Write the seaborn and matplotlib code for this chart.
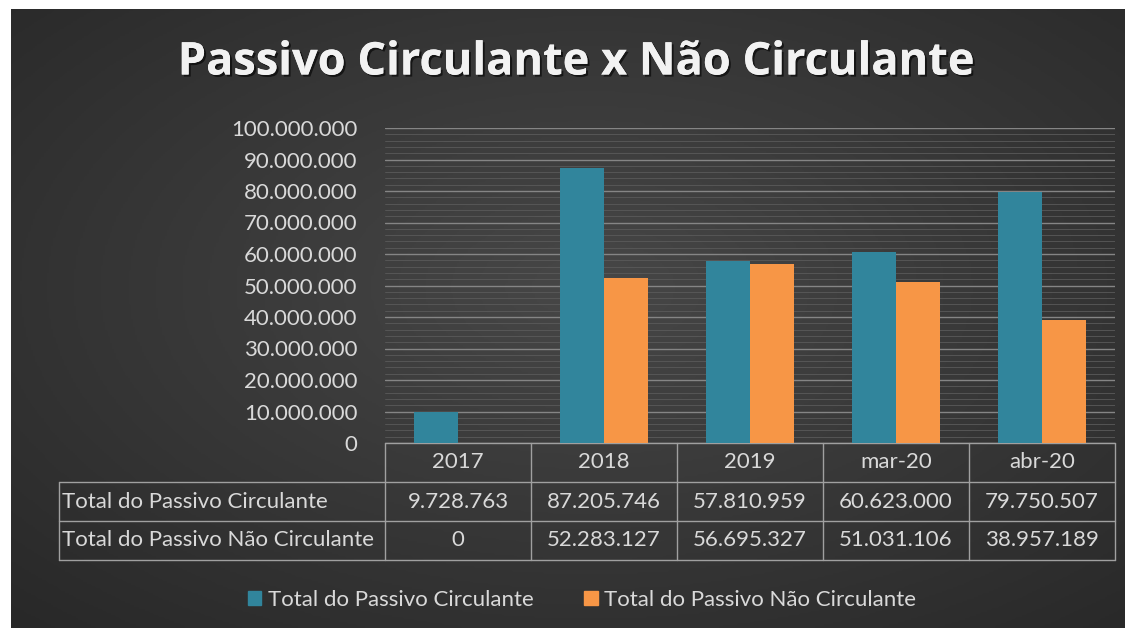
import numpy as np
import pandas as pd
import seaborn as sns
import matplotlib.pyplot as plt
from matplotlib import patheffects
from matplotlib.colors import LinearSegmentedColormap
from matplotlib.ticker import FuncFormatter, MultipleLocator

# data
categories = ['2017', '2018', '2019', 'mar-20', 'abr-20']
circulante = [9728763, 87205746, 57810959, 60623000, 79750507]
nao_circulante = [0, 52283127, 56695327, 51031106, 38957189]
series_names = ['Total do Passivo Circulante', 'Total do Passivo Não Circulante']
colors = ['#31859C', '#F79646']
title = 'Passivo Circulante x Não Circulante'


def fmt_br(v, pos=None):
    return f'{v:,.0f}'.replace(',', '.')


df = pd.DataFrame({
    'cat': categories * 2,
    'serie': [series_names[0]] * 5 + [series_names[1]] * 5,
    'valor': circulante + nao_circulante,
})

sns.set_theme(style='dark')
plt.rcParams['font.family'] = ['Lato', 'DejaVu Sans']
txt = '#d9d9d9'
line_c = '#a0a0a0'

W, H = 1133, 635
fig = plt.figure(figsize=(W / 100, H / 100), dpi=100)
fig.patch.set_facecolor('white')


def frame(x0, y0, x1, y1):
    # pixel box -> figure fraction [left, bottom, width, height]
    return [x0 / W, 1 - y1 / H, (x1 - x0) / W, (y1 - y0) / H]


# dark radial background
bg = fig.add_axes(frame(11, 9, 1125, 628))
yy, xx = np.mgrid[0:1:300j, 0:1:500j]
r = np.sqrt(((xx - 0.52) / 0.8) ** 2 + ((yy - 0.45) / 0.8) ** 2)
cmap = LinearSegmentedColormap.from_list('bg', ['#474747', '#282828'])
bg.imshow(np.clip(r, 0, 1), cmap=cmap, aspect='auto', extent=[0, 1, 0, 1])
bg.set_axis_off()

# plot area
ax = fig.add_axes(frame(385, 128, 1115, 443))
ax.set_facecolor('none')
sns.barplot(data=df, x='cat', y='valor', hue='serie', palette=colors,
            width=0.6, gap=0, saturation=1, linewidth=0, ax=ax, legend=False,
            zorder=3)
ax.set_ylim(0, 100_000_000)
ax.set_xlim(-0.5, 4.5)
ax.yaxis.set_major_locator(MultipleLocator(10_000_000))
ax.yaxis.set_minor_locator(MultipleLocator(2_000_000))
ax.yaxis.set_major_formatter(FuncFormatter(fmt_br))
ax.grid(axis='y', which='major', color='#858585', lw=1.0, zorder=0)
ax.grid(axis='y', which='minor', color='#5a5a5a', lw=0.6, zorder=0)
ax.grid(axis='x', visible=False)
ax.set_xlabel('')
ax.set_ylabel('')
ax.set_xticks([])
ax.tick_params(axis='y', which='both', length=0, labelsize=16, labelcolor=txt, pad=20)
for s in ax.spines.values():
    s.set_visible(False)

# data table under the axis
rh = 39 / 315
left = (59 - 385) / 730
n = len(categories)
blend = ax.get_xaxis_transform()
for k in range(4):
    x0 = 0 if k == 0 else left
    ax.plot([x0, 1], [-k * rh, -k * rh], transform=ax.transAxes, color=line_c,
            lw=1, clip_on=False)
for i in range(n + 1):
    ax.plot([i - 0.5, i - 0.5], [0, -3 * rh], transform=blend, color=line_c,
            lw=1, clip_on=False)
ax.plot([left, left], [-rh, -3 * rh], transform=ax.transAxes, color=line_c,
        lw=1, clip_on=False)

for i, c in enumerate(categories):
    ax.text(i, -0.5 * rh, c, transform=blend, ha='center', va='center',
            fontsize=16, color=txt)
    ax.text(i, -1.5 * rh, fmt_br(circulante[i]), transform=blend, ha='center',
            va='center', fontsize=16, color=txt)
    ax.text(i, -2.5 * rh, fmt_br(nao_circulante[i]), transform=blend, ha='center',
            va='center', fontsize=16, color=txt)
for j, name in enumerate(series_names):
    ax.text(left + 0.004, -(1.5 + j) * rh, name, transform=ax.transAxes,
            ha='left', va='center', fontsize=16, color=txt)

# title
fig.text(576 / W, 1 - 63 / H, title, ha='center', va='center', fontsize=32.5,
         fontweight='bold', family=['Open Sans', 'DejaVu Sans'], color='#f2f2f2',
         path_effects=[patheffects.withSimplePatchShadow(offset=(1.5, -1.5),
                                                         shadow_rgbFace='black',
                                                         alpha=0.6),
                       patheffects.Normal()])

# legend
handles = [plt.Rectangle((0, 0), 1, 1, color=c) for c in colors]
fig.legend(handles, series_names, loc='center', bbox_to_anchor=(582 / W, 1 - 600 / H),
           ncol=2, frameon=False, fontsize=16, labelcolor=txt, handlelength=0.6,
           handleheight=0.6, handletextpad=0.3, columnspacing=2.3)

fig.savefig('out.png', dpi=100)
